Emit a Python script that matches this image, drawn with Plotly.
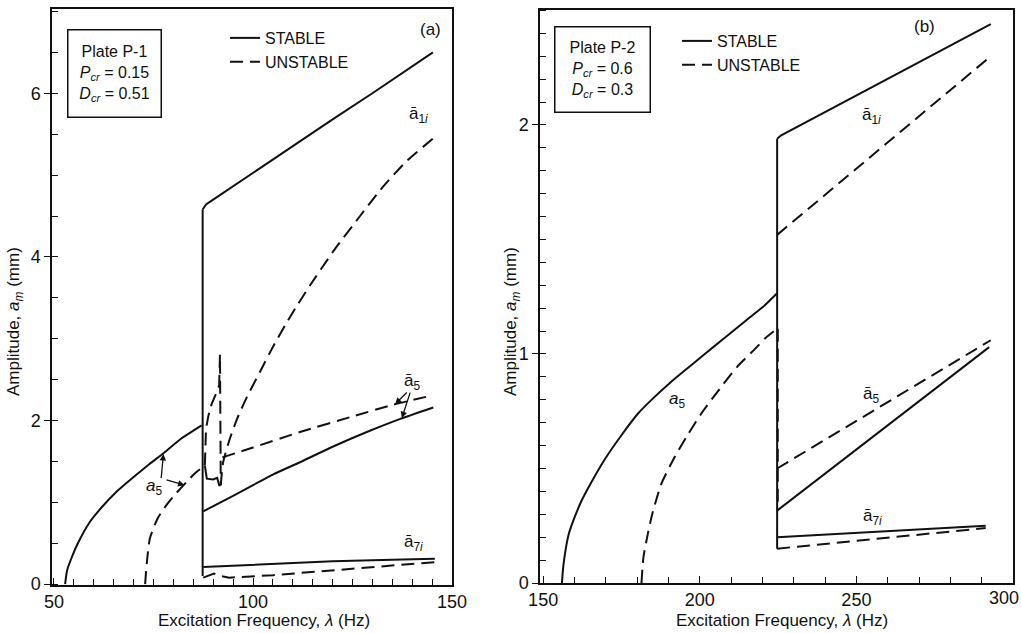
import plotly.graph_objects as go

FONT = "Liberation Sans, Arial, sans-serif"
INK = "#111111"
DASH = "13px,7px"

# ---------------- Panel (a): Plate P-1 ----------------
a_a5_st_x = [52.8, 53.3, 54.4, 56.0, 59.0, 62.0, 65.7, 70.0, 74.0, 77.5, 82.0, 87.1]
a_a5_st_y = [0.0, 0.17, 0.32, 0.50, 0.76, 0.94, 1.13, 1.31, 1.47, 1.60, 1.78, 1.94]

a_jump_x = [87.35, 87.35]
a_jump_y = [0.10, 4.58]

a_a1_st_x = [87.35, 88.2, 90.0, 100.0, 110.0, 120.0, 130.0, 140.0, 145.2]
a_a1_st_y = [4.58, 4.64, 4.70, 5.03, 5.35, 5.68, 6.00, 6.33, 6.50]

a_a5_un_x = [72.9, 73.3, 74.1, 76.0, 78.3, 80.5, 83.3, 85.5, 87.9]
a_a5_un_y = [0.0, 0.25, 0.56, 0.80, 0.97, 1.10, 1.25, 1.36, 1.45]

a_spike_x = [87.9, 88.2, 88.8, 89.6, 90.9, 91.5, 91.7, 91.9]
a_spike_y = [1.45, 1.90, 2.06, 2.20, 2.35, 2.43, 2.81, 1.21]

a_kink_x = [87.9, 88.4, 90.0, 91.0, 91.5, 91.9]
a_kink_y = [1.45, 1.29, 1.28, 1.30, 1.21, 1.21]

a_a1_un_x = [91.9, 92.5, 94.2, 96.0, 98.4, 101.8, 105.0, 108.5, 111.0, 114.3, 120.2, 126.9, 132.7, 138.6, 145.3]
a_a1_un_y = [1.21, 1.49, 1.78, 2.02, 2.28, 2.60, 2.90, 3.20, 3.40, 3.65, 4.07, 4.50, 4.86, 5.17, 5.45]

a_a5b_st_x = [87.5, 95.0, 100.0, 105.0, 111.8, 120.0, 128.6, 137.0, 145.3]
a_a5b_st_y = [0.89, 1.08, 1.21, 1.34, 1.49, 1.68, 1.86, 2.02, 2.16]

a_a5b_un_x = [92.3, 100.0, 111.8, 125.0, 135.0, 145.3]
a_a5b_un_y = [1.55, 1.67, 1.86, 2.05, 2.19, 2.31]

a_a7_st_x = [87.5, 100.0, 120.0, 135.0, 145.7]
a_a7_st_y = [0.21, 0.24, 0.28, 0.30, 0.31]

a_a7_un_x = [87.5, 88.5, 90.2, 91.8, 94.0, 105.0, 120.0, 135.0, 145.7]
a_a7_un_y = [0.08, 0.10, 0.13, 0.10, 0.08, 0.11, 0.17, 0.23, 0.27]

# ---------------- Panel (b): Plate P-2 ----------------
b_a5_st_x = [156.0, 156.5, 158.1, 160.0, 162.3, 165.0, 169.7, 175.0, 180.3, 185.0, 191.0, 196.0,
             201.6, 207.0, 212.2, 216.0, 220.7, 224.7]
b_a5_st_y = [0.0, 0.08, 0.21, 0.285, 0.36, 0.43, 0.54, 0.645, 0.74, 0.805, 0.88, 0.937,
             1.0, 1.06, 1.118, 1.16, 1.212, 1.265]

b_jump_x = [224.7, 224.7]
b_jump_y = [0.15, 1.94]

b_a1_st_x = [224.7, 226.0, 292.9]
b_a1_st_y = [1.94, 1.955, 2.44]

b_a1_un_x = [224.7, 292.9]
b_a1_un_y = [1.52, 2.30]

b_a5_un_x = [181.4, 182.0, 183.5, 185.0, 187.8, 192.0, 196.3, 201.0, 206.9, 212.0, 217.5, 221.0, 224.7]
b_a5_un_y = [0.0, 0.11, 0.22, 0.31, 0.435, 0.55, 0.65, 0.75, 0.857, 0.945, 1.02, 1.07, 1.11]

b_a5_drop_x = [224.9, 224.9]
b_a5_drop_y = [1.11, 0.32]

b_a5b_st_x = [224.7, 292.4]
b_a5b_st_y = [0.316, 1.03]

b_a5b_un_x = [224.7, 292.9]
b_a5b_un_y = [0.50, 1.06]

b_a7_st_x = [224.7, 291.3]
b_a7_st_y = [0.20, 0.25]

b_a7_un_x = [224.7, 291.3]
b_a7_un_y = [0.15, 0.24]

# tick values and labels
a_xticks = [50, 100, 150]
a_yticks = [0, 2, 4, 6]
b_xticks = [150, 200, 250, 300]
b_xlabels = ["150", "200", "250", ""]   # "300" drawn separately (it sits left of its tick)
b_yticks = [0, 1, 2]

fig = go.Figure()


def add_line(x, y, dashed, xa, ya, name=None, legend=None, smooth=False):
    fig.add_trace(go.Scatter(
        x=x, y=y, mode="lines", xaxis=xa, yaxis=ya,
        line=dict(color=INK, width=2, dash=DASH if dashed else "solid",
                  shape="spline" if smooth else "linear", smoothing=0.6),
        showlegend=name is not None, name=name or "", legend=legend,
        hoverinfo="skip"))


# panel a
add_line(a_a5_st_x, a_a5_st_y, False, "x", "y", "STABLE", "legend", smooth=True)
add_line(a_a5_un_x, a_a5_un_y, True, "x", "y", "UNSTABLE", "legend", smooth=True)
add_line(a_jump_x, a_jump_y, False, "x", "y")
add_line(a_a1_st_x, a_a1_st_y, False, "x", "y")
add_line(a_spike_x, a_spike_y, True, "x", "y")
add_line(a_kink_x, a_kink_y, False, "x", "y")
add_line(a_a1_un_x, a_a1_un_y, True, "x", "y", smooth=True)
add_line(a_a5b_st_x, a_a5b_st_y, False, "x", "y", smooth=True)
add_line(a_a5b_un_x, a_a5b_un_y, True, "x", "y", smooth=True)
add_line(a_a7_st_x, a_a7_st_y, False, "x", "y")
add_line(a_a7_un_x, a_a7_un_y, True, "x", "y")

# panel b
add_line(b_a5_st_x, b_a5_st_y, False, "x2", "y2", "STABLE", "legend2", smooth=True)
add_line(b_a5_un_x, b_a5_un_y, True, "x2", "y2", "UNSTABLE", "legend2", smooth=True)
add_line(b_a5_drop_x, b_a5_drop_y, True, "x2", "y2")
add_line(b_jump_x, b_jump_y, False, "x2", "y2")
add_line(b_a1_st_x, b_a1_st_y, False, "x2", "y2")
add_line(b_a1_un_x, b_a1_un_y, True, "x2", "y2")
add_line(b_a5b_st_x, b_a5b_st_y, False, "x2", "y2")
add_line(b_a5b_un_x, b_a5b_un_y, True, "x2", "y2")
add_line(b_a7_st_x, b_a7_st_y, False, "x2", "y2")
add_line(b_a7_un_x, b_a7_un_y, True, "x2", "y2")

# the page's body margin is removed (see post_script), so the figure fills the window
W, H = 1021, 633


def px(xp):
    return xp / W


def py(yp):
    return 1 - yp / H


axis_common = dict(
    showgrid=False, zeroline=False, showline=True, linecolor=INK, linewidth=1.5,
    mirror=True, tickfont=dict(family=FONT, size=18, color=INK), tickcolor=INK,
    automargin=False,
)

xa_common = dict(axis_common, ticks="inside", ticklen=7, tickwidth=1.3)
ya_common = dict(axis_common, ticks="outside", ticklen=6, tickwidth=1.3)

leg = dict(xanchor="left", yanchor="top", bgcolor="rgba(0,0,0,0)",
           font=dict(family=FONT, size=16, color=INK), tracegroupgap=0,
           itemclick=False, itemdoubleclick=False)

fig.update_layout(
    width=W, height=H, autosize=False,
    margin=dict(l=0, r=0, t=0, b=0, pad=0),
    paper_bgcolor="white", plot_bgcolor="white",
    font=dict(family=FONT, size=17, color=INK),
    xaxis=dict(xa_common, domain=[px(52), px(452)], range=[49.5, 150.0],
               tickvals=a_xticks, anchor="y",
               minor=dict(dtick=5, ticks="inside", ticklen=6, tickcolor=INK, tickwidth=1)),
    yaxis=dict(ya_common, domain=[py(585), py(9)], range=[-0.01, 7.03],
               tickvals=a_yticks, anchor="x",
               minor=dict(dtick=0.5, ticks="inside", ticklen=6, tickcolor=INK, tickwidth=1)),
    xaxis2=dict(xa_common, domain=[px(540), px(1013)], range=[149.0, 300.0],
                tickvals=b_xticks, ticktext=b_xlabels, anchor="y2",
                minor=dict(dtick=10, ticks="inside", ticklen=6, tickcolor=INK, tickwidth=1)),
    yaxis2=dict(ya_common, domain=[py(583), py(10)], range=[0, 2.502],
                tickvals=b_yticks, anchor="x2",
                minor=dict(dtick=0.1, ticks="inside", ticklen=6, tickcolor=INK, tickwidth=1)),
    legend=dict(leg, x=px(225), y=py(21)),
    legend2=dict(leg, x=px(677), y=py(24)),
)

ann = []
tf = dict(family=FONT, size=17, color=INK)
bf = dict(family=FONT, size=16, color=INK)
mid = dict(xanchor="center", yanchor="middle", showarrow=False)

# axis titles
ann.append(dict(mid, text="Excitation Frequency, <i>λ</i> (Hz)", x=px(264), y=py(620), xref="paper", yref="paper",
                font=tf))
ann.append(dict(mid, text="Excitation Frequency, <i>λ</i> (Hz)", x=px(782), y=py(620), xref="paper", yref="paper",
                font=tf))
ann.append(dict(mid, text="Amplitude, <i>a</i><sub><i>m</i></sub> (mm)", x=px(15), y=py(322), xref="paper",
                yref="paper", textangle=-90, font=tf))
ann.append(dict(mid, text="Amplitude, <i>a</i><sub><i>m</i></sub> (mm)", x=px(512), y=py(322), xref="paper",
                yref="paper", textangle=-90, font=tf))

# last tick label of panel (b), which the reference prints left of its tick
ann.append(dict(mid, text="300", x=px(1004), y=py(598), xref="paper", yref="paper",
                font=dict(family=FONT, size=18, color=INK)))

# info boxes
ann.append(dict(mid, text="Plate P-1<br><i>P</i><sub><i>cr</i></sub> = 0.15<br><i>D</i><sub><i>cr</i></sub> = 0.51",
                x=px(114.5), y=py(73), xref="paper", yref="paper", font=bf,
                bordercolor=INK, borderwidth=1.5, borderpad=10, width=72, height=66, bgcolor="white"))
ann.append(dict(mid, text="Plate P-2<br><i>P</i><sub><i>cr</i></sub> = 0.6<br><i>D</i><sub><i>cr</i></sub> = 0.3",
                x=px(602.5), y=py(69.5), xref="paper", yref="paper", font=bf,
                bordercolor=INK, borderwidth=1.5, borderpad=10, width=74, height=64, bgcolor="white"))

# panel labels
ann.append(dict(mid, text="(a)", x=144.5, y=6.78, xref="x", yref="y", font=tf))
ann.append(dict(mid, text="(b)", x=271.7, y=2.43, xref="x2", yref="y2", font=tf))

# curve labels panel a
ann.append(dict(mid, text="ā<sub>1<i>i</i></sub>", x=141.5, y=5.74, xref="x", yref="y", font=tf))
ann.append(dict(mid, text="ā<sub>7<i>i</i></sub>", x=140.3, y=0.50, xref="x", yref="y", font=tf))
ann.append(dict(mid, text="ā<sub>5</sub>", x=139.9, y=2.47, xref="x", yref="y", font=tf))
ann.append(dict(mid, text="<i>a</i><sub>5</sub>", x=75.2, y=1.19, xref="x", yref="y", font=tf))

arrow = dict(text="", showarrow=True, arrowhead=2, arrowsize=1, arrowwidth=1.3, arrowcolor=INK,
             xref="x", yref="y", axref="x", ayref="y")
ann.append(dict(arrow, x=77.5, y=1.59, ax=76.9, ay=1.28))
ann.append(dict(arrow, x=82.8, y=1.21, ax=77.9, ay=1.28))
ann.append(dict(arrow, x=135.7, y=2.20, ax=139.0, ay=2.36))
ann.append(dict(arrow, x=137.4, y=2.03, ax=139.6, ay=2.36))

# curve labels panel b
ann.append(dict(mid, text="ā<sub>1<i>i</i></sub>", x=254.7, y=2.04, xref="x2", yref="y2", font=tf))
ann.append(dict(mid, text="<i>a</i><sub>5</sub>", x=192.6, y=0.80, xref="x2", yref="y2", font=tf))
ann.append(dict(mid, text="ā<sub>5</sub>", x=254.7, y=0.82, xref="x2", yref="y2", font=tf))
ann.append(dict(mid, text="ā<sub>7<i>i</i></sub>", x=255.2, y=0.29, xref="x2", yref="y2", font=tf))

fig.update_layout(annotations=ann)

fig.write_html(
    "out.html",
    config={"displayModeBar": False},
    post_script="document.body.style.margin='0';document.body.style.overflow='hidden';",
)
